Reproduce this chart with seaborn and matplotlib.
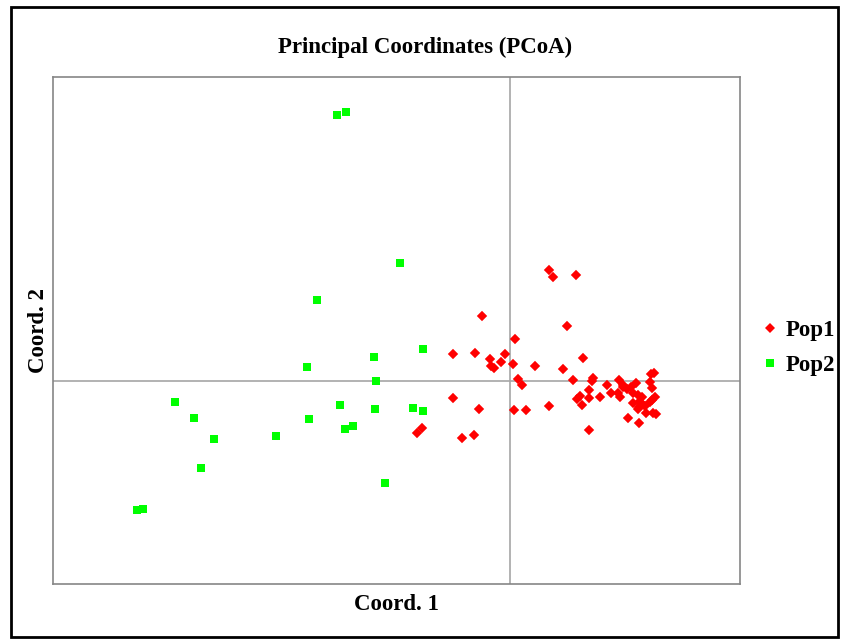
import numpy as np
import pandas as pd
import matplotlib
matplotlib.use("Agg")
import matplotlib.pyplot as plt
from matplotlib.patches import Rectangle
from matplotlib.lines import Line2D
import seaborn as sns

# ---- data (coordinates) ----
pop1_x = [0.195, 0.215, 0.33, -0.14, 0.285, 0.025, -0.285, -0.175, -0.025, -0.10,
          -0.045, 0.015, 0.125, -0.095, -0.08, 0.365, 0.265, 0.04, 0.06, 0.315,
          0.415, 0.41, 0.485, 0.545, 0.63, 0.705, 0.72, -0.285, -0.155, 0.02,
          0.08, 0.195, 0.395, 0.35, 0.335, 0.395, 0.36, 0.45, 0.54, 0.55,
          0.565, 0.585, 0.615, 0.64, 0.66, 0.71, 0.725, 0.71, 0.615, 0.645,
          0.66, 0.675, 0.70, 0.64, 0.68, 0.73, 0.715, 0.59, 0.645, 0.395,
          -0.44, -0.465, -0.24, -0.18, 0.565, 0.605, 0.505, 0.645, 0.655, 0.70]
pop1_y = [0.555, 0.52, 0.53, 0.325, 0.275, 0.21, 0.135, 0.14, 0.135, 0.11,
          0.095, 0.085, 0.075, 0.075, 0.065, 0.115, 0.06, 0.01, -0.02, 0.005,
          0.015, 0.0, -0.02, 0.005, -0.01, 0.035, 0.04, -0.085, -0.14, -0.145,
          -0.145, -0.125, -0.045, -0.075, -0.09, -0.085, -0.12, -0.08, -0.06, -0.08,
          -0.03, -0.04, -0.06, -0.07, -0.08, -0.035, -0.08, -0.095, -0.11, -0.13,
          -0.115, -0.125, -0.105, -0.14, -0.16, -0.165, -0.16, -0.185, -0.21, -0.245,
          -0.235, -0.26, -0.285, -0.27, -0.02, -0.03, -0.06, -0.105, -0.11, -0.005]

pop2_x = [-0.865, -0.82, -0.55, -0.965, -0.435, -0.68, -1.015, -0.67, -1.675, -1.58,
          -1.48, -1.545, -1.17, -1.005, -0.85, -0.675, -0.485, -0.435, -0.785, -0.825,
          -0.625, -1.865, -1.835]
pop2_y = [1.33, 1.345, 0.59, 0.405, 0.16, 0.12, 0.07, 0.0, -0.105, -0.185,
          -0.29, -0.435, -0.275, -0.19, -0.12, -0.14, -0.135, -0.15, -0.225, -0.24,
          -0.51, -0.645, -0.64]

groups = ["Pop1", "Pop2"]
colors = {"Pop1": "#FF0000", "Pop2": "#00FF00"}

df1 = pd.DataFrame({"x": pop1_x, "y": pop1_y})
df2 = pd.DataFrame({"x": pop2_x, "y": pop2_y})

# ---- figure ----
sns.set_style("white")
plt.rcParams["font.family"] = ["Liberation Serif", "DejaVu Serif"]
plt.rcParams["text.color"] = "black"
plt.rcParams["axes.labelcolor"] = "black"

W, H = 842, 641
fig = plt.figure(figsize=(W / 100, H / 100), dpi=100)
L, R, T, B = 53, 740, 77, 584
ax = fig.add_axes([L / W, 1 - B / H, (R - L) / W, (B - T) / H])

ax.axhline(0, color="#A6A6A6", lw=1.2, zorder=1)
ax.axvline(0, color="#A6A6A6", lw=1.2, zorder=1)

sns.scatterplot(data=df1, x="x", y="y", ax=ax, marker="D", s=28,
                color=colors["Pop1"], edgecolor="none", linewidth=0, zorder=3)
sns.scatterplot(data=df2, x="x", y="y", ax=ax, marker="s", s=38,
                color=colors["Pop2"], edgecolor="none", linewidth=0, zorder=3)

ax.set_xlim(-2.285, 1.15)
ax.set_ylim(-1.015, 1.52)
ax.set_xticks([])
ax.set_yticks([])
for sp in ax.spines.values():
    sp.set_visible(True)
    sp.set_color("#868686")
    sp.set_linewidth(1.2)

ax.set_xlabel("Coord. 1", fontsize=16.5, fontweight="bold", labelpad=7, color="black")
ax.set_ylabel("Coord. 2", fontsize=16.5, fontweight="bold", labelpad=3, color="black")
fig.text(425 / W, 1 - 47 / H, "Principal Coordinates (PCoA)", ha="center", va="center",
         fontsize=16.5, fontweight="bold", color="black")

handles = [
    Line2D([], [], marker="D", ls="none", color=colors["Pop1"], markersize=5, markeredgewidth=0),
    Line2D([], [], marker="s", ls="none", color=colors["Pop2"], markersize=6, markeredgewidth=0),
]
leg = fig.legend(handles, groups, loc="center left", bbox_to_anchor=(749 / W, 1 - 348 / H),
                 frameon=False, prop={"size": 16.5, "weight": "bold"},
                 handlelength=0.8, handletextpad=0.3, labelspacing=0.65, borderpad=0)
for t in leg.get_texts():
    t.set_color("black")

fig.patches.append(Rectangle((11 / W, 1 - 637 / H), (838 - 11) / W, (637 - 7) / H,
                             transform=fig.transFigure, fill=False, lw=2, ec="black"))

fig.savefig("out.png", dpi=100, facecolor="white")
